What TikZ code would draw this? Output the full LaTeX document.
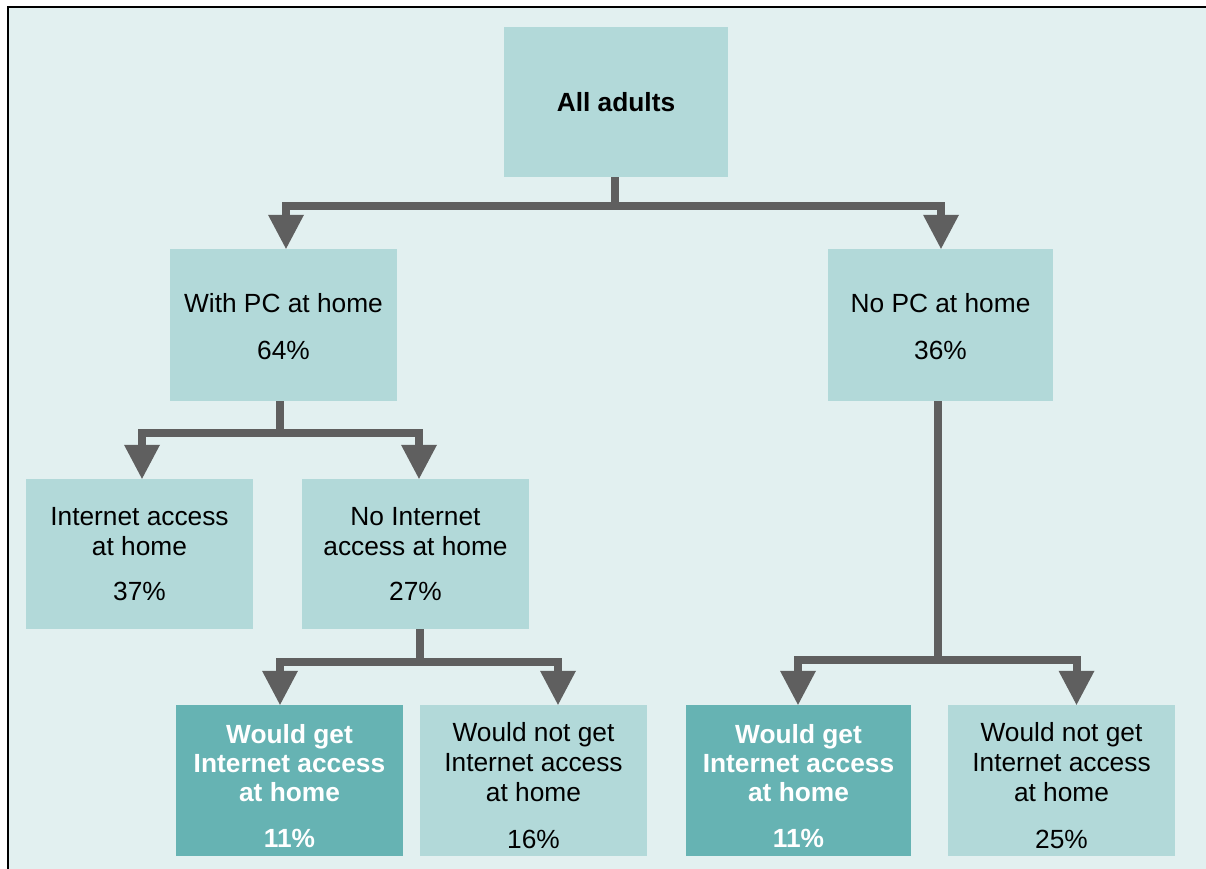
\documentclass[tikz,border=0pt]{standalone}
\usepackage{fontspec}
\setmainfont{Liberation Sans}
\usetikzlibrary{arrows.meta}
\definecolor{bgc}{HTML}{E2F0F0}
\definecolor{boxc}{HTML}{B2D9D9}
\definecolor{darkc}{HTML}{66B3B3}
\definecolor{connc}{HTML}{5F5F5F}
\newcommand{\topfix}{\rule{0pt}{30pt}}
\begin{document}
\begin{tikzpicture}[x=1pt,y=-1pt,
  box/.style={rectangle, fill=boxc, inner sep=0pt, align=center,
    font=\fontsize{26.3}{30}\selectfont},
  darkbox/.style={box, fill=darkc, text=white,
    font=\fontsize{26.3}{29}\selectfont\bfseries},
  link/.style={draw=connc, line width=8pt, line join=miter,
    -{Triangle[width=36pt,length=34pt,line width=0pt]}}
]
\useasboundingbox (0,0) rectangle (1206,869);
\fill[white] (0,0) rectangle (1206,869);
\fill[bgc] (8,7) rectangle (1206,869);
\draw[line width=2pt, black] (8,870) -- (8,7) -- (1207,7);

% nodes
\node[box, minimum width=224pt, minimum height=150pt] (all) at (616,102) {\textbf{All adults}};
\node[box, minimum width=227pt, minimum height=152pt] (pc) at (283.5,325) {\rule{0pt}{22pt}With PC at home\\[17pt]64\%};
\node[box, minimum width=225pt, minimum height=152pt] (nopc) at (940.5,325) {\rule{0pt}{22pt}No PC at home\\[17pt]36\%};
\node[box, minimum width=227pt, minimum height=150pt] (ia) at (139.5,554) {Internet access\\at home\\[15pt]37\%};
\node[box, minimum width=227pt, minimum height=150pt] (ni) at (415.5,554) {No Internet\\access at home\\[15pt]27\%};
\node[darkbox, minimum width=227pt, minimum height=151pt] (wg1) at (289.5,780.5) {\topfix Would get\\Internet access\\at home\\[17pt]11\%};
\node[box, minimum width=227pt, minimum height=151pt] (wn1) at (533.5,780.5) {\topfix Would not get\\Internet access\\at home\\[17pt]16\%};
\node[darkbox, minimum width=225pt, minimum height=151pt] (wg2) at (798.5,780.5) {\topfix Would get\\Internet access\\at home\\[17pt]11\%};
\node[box, minimum width=227pt, minimum height=151pt] (wn2) at (1061.5,780.5) {\topfix Would not get\\Internet access\\at home\\[17pt]25\%};

% connectors
\draw[link] ([xshift=-1.5pt]all.south) -- ++(0,28.5) -| ([xshift=2.5pt]pc.north);
\draw[link] ([xshift=-1.5pt]all.south) -- ++(0,28.5) -| ([xshift=0.5pt]nopc.north);

\draw[link] ([xshift=-3.5pt]pc.south) -- ++(0,32) -| ([xshift=2.5pt]ia.north);
\draw[link] ([xshift=-3.5pt]pc.south) -- ++(0,32) -| ([xshift=3.5pt]ni.north);

\draw[link] ([xshift=4.5pt]ni.south) -- ++(0,32.5) -| ([xshift=-9.5pt]wg1.north);
\draw[link] ([xshift=4.5pt]ni.south) -- ++(0,32.5) -| ([xshift=24.5pt]wn1.north);

\draw[link] ([xshift=-2.5pt]nopc.south) -- ++(0,258.5) -| ([xshift=-0.5pt]wg2.north);
\draw[link] ([xshift=-2.5pt]nopc.south) -- ++(0,258.5) -| ([xshift=15pt]wn2.north);
\end{tikzpicture}
\end{document}
